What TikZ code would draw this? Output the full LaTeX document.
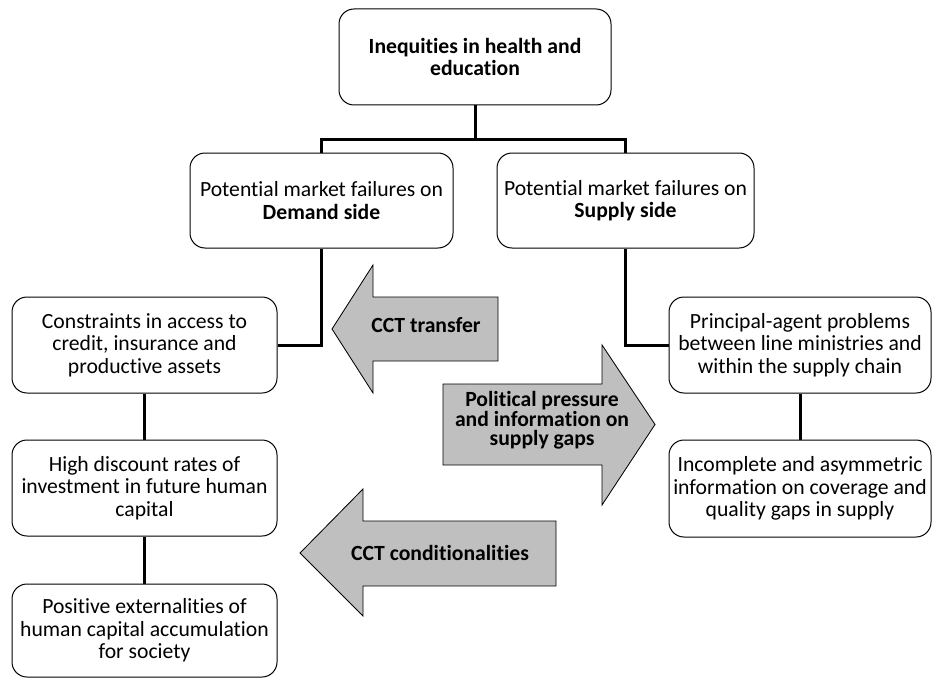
\documentclass[tikz,border=0pt]{standalone}
\usepackage{fontspec}
\setmainfont{Carlito}[Ligatures=NoCommon]
\usetikzlibrary{positioning,calc}

\begin{document}
\begin{tikzpicture}[x=0.6pt,y=-0.6pt,
  box/.style={draw=black,line width=.6pt,rounded corners=9pt,align=center,
    inner sep=0pt,font=\fontsize{13}{13.5}\selectfont},
  link/.style={line width=1.8pt},
  fatarrow/.style={draw=black,line width=.5pt,fill=black!25},
  arrowtext/.style={align=center,inner sep=0pt,font=\fontsize{13}{11}\selectfont\bfseries}]
\useasboundingbox (0,0) rectangle (933,679);
\node[box,minimum width=163.2pt,minimum height=57.6pt] (top) at (475,57)
  {\textbf{Inequities in health and}\\\textbf{education}};
\node[box,minimum width=157.8pt,minimum height=57pt] (demand) at (321.5,200.5)
  {Potential market failures on\\\textbf{Demand side}};
\node[box,minimum width=154.2pt,minimum height=57pt] (supply) at (625.5,200.5)
  {Potential market failures on\\\textbf{Supply side}};
\node[box,minimum width=159pt,minimum height=57.6pt] (constr) at (144.5,345)
  {Constraints in access to\\credit, insurance and\\productive assets};
\node[box,minimum width=159pt,minimum height=57.6pt] (discount) at (144.5,488)
  {High discount rates of\\investment in future human\\capital};
\node[box,minimum width=159pt,minimum height=55.8pt] (extern) at (144.5,630.5)
  {Positive externalities of\\human capital accumulation\\for society};
\node[box,minimum width=157.2pt,minimum height=57.6pt] (agent) at (800,345)
  {Principal-agent problems\\between line ministries and\\within the supply chain};
\node[box,minimum width=157.2pt,minimum height=58.2pt] (info) at (800,488.5)
  {Incomplete and asymmetric\\information on coverage and\\quality gaps in supply};
\draw[link] (top.south) -- ++(0,35);
\draw[link] (demand.north) -- ++(0,-13) -| (supply.north);
\draw[link] (demand.south) |- (constr.east);
\draw[link] (supply.south) |- (agent.west);
\draw[link] (constr.south) -- (discount.north);
\draw[link] (discount.south) -- (extern.north);
\draw[link] (agent.south) -- (info.north);
\draw[fatarrow] (498,297) -- (373,297) -- (373,265) -- (332,329) -- (373,393)
  -- (373,361) -- (498,361) -- cycle;
\node[arrowtext] (transfer) at (426,325) {CCT transfer};
\draw[fatarrow] (443,384) -- (602,384) -- (602,345) -- (655,424.5) -- (602,505)
  -- (602,465) -- (443,465) -- cycle;
\node[arrowtext] (pressure) at (542,420)
  {Political pressure\\and information on\\supply gaps};
\draw[fatarrow] (556,521) -- (363,521) -- (363,489) -- (300,553) -- (363,616)
  -- (363,586) -- (556,586) -- cycle;
\node[arrowtext] (condit) at (440,553) {CCT conditionalities};
\end{tikzpicture}
\end{document}
